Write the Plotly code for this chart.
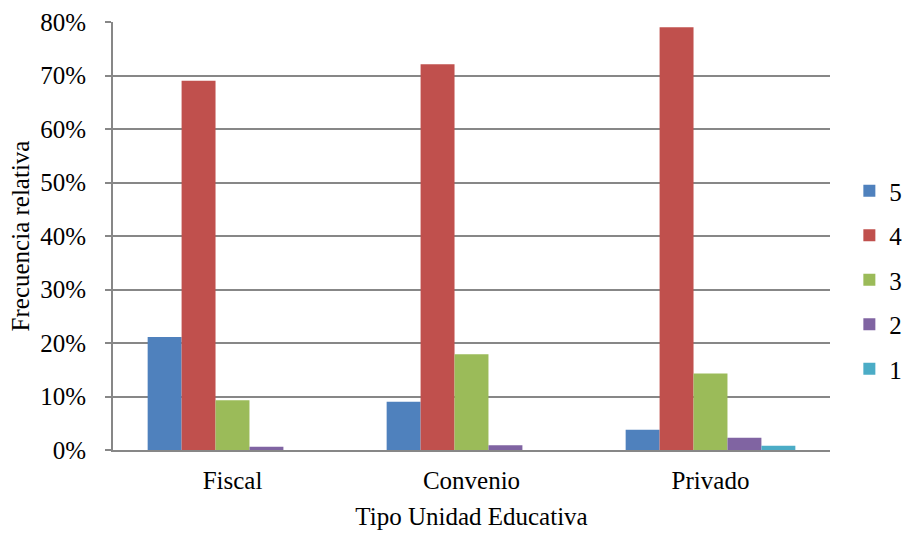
import plotly.graph_objects as go

categories = ["Fiscal", "Convenio", "Privado"]
series_names = ["5", "4", "3", "2", "1"]
s5 = [0.211, 0.090, 0.038]
s4 = [0.690, 0.721, 0.790]
s3 = [0.093, 0.179, 0.143]
s2 = [0.006, 0.009, 0.023]
s1 = [0.000, 0.000, 0.008]
colors = ["#4F81BD", "#C0504D", "#9BBB59", "#8064A2", "#4BACC6"]

FONT = "Liberation Serif, Times New Roman, serif"
FS = 25
fig = go.Figure()
for name, vals, col in zip(series_names, [s5, s4, s3, s2, s1], colors):
    fig.add_trace(go.Bar(x=categories, y=vals, name=name, legendgroup=name,
                         marker=dict(color=col, line=dict(width=0))))

fig.update_layout(
    width=907, height=534,
    margin=dict(l=113, r=77, t=22, b=84, autoexpand=False),
    plot_bgcolor="white", paper_bgcolor="white",
    barmode="group", bargap=0.29, bargroupgap=0,
    font=dict(family=FONT, size=FS, color="black"),
    showlegend=True,
    legend=dict(x=1.027, xanchor="left", y=0.397, yanchor="middle",
                font=dict(family=FONT, size=FS), tracegroupgap=9,
                itemwidth=30),
    xaxis=dict(showline=True, linecolor="#878787", linewidth=2, ticks="",
               automargin=False, ticklabelstandoff=7,
               title=dict(text="Tipo Unidad Educativa", font=dict(family=FONT, size=FS), standoff=14),
               tickfont=dict(family=FONT, size=FS)),
    yaxis=dict(range=[0, 0.8], dtick=0.1, tickformat=".0%",
               automargin=False,
               showgrid=True, gridcolor="#878787", gridwidth=1.5,
               showline=True, linecolor="#878787", linewidth=2,
               ticks="outside", ticklen=6, tickcolor="#878787", tickwidth=1.5,
               ticklabelstandoff=14,
               zeroline=False,
               title=dict(text="Frecuencia relativa", font=dict(family=FONT, size=FS), standoff=3),
               tickfont=dict(family=FONT, size=FS)),
)
fig.write_html("out.html", config={"displayModeBar": False},
               post_script="document.body.style.margin='0';document.body.style.overflow='hidden';")
